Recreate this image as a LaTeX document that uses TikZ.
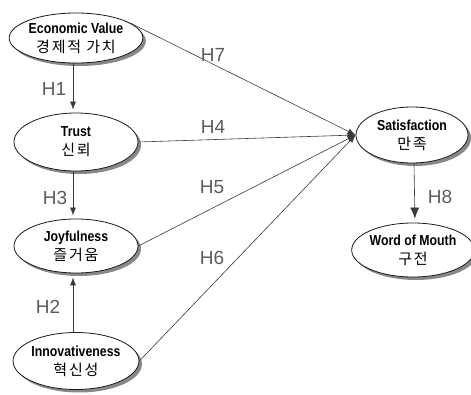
\documentclass[tikz,border=0pt]{standalone}
\usepackage{fontspec}
\setmainfont{Liberation Sans}
\newfontfamily\eng[FakeStretch=0.85]{Liberation Sans}
\newfontfamily\kr[LetterSpace=12]{Noto Sans CJK KR}
\usetikzlibrary{arrows.meta,shapes.geometric,shadows}
\definecolor{Ink}{HTML}{1A1A1A}
\definecolor{Wire}{HTML}{3A3A3A}
\definecolor{Tag}{HTML}{5C5C5C}
\definecolor{Shade}{HTML}{888888}
\tikzset{
  construct/.style={ellipse, draw=Ink, line width=0.8pt, fill=white, inner sep=0pt,
    minimum width=124pt, minimum height=54pt, align=center,
    font=\fontsize{15}{19}\selectfont,
    drop shadow={shadow xshift=3pt, shadow yshift=-3pt, fill=Shade, opacity=1}},
  link/.style={draw=Wire, line width=0.6pt, -{Latex[length=8pt,width=6pt]}},
  hyp/.style={text=Tag, font=\fontsize{19}{19}\selectfont, inner sep=0pt}
}
\newcommand{\cname}[2]{{\eng\bfseries\fontsize{14.5}{19}\selectfont #1}\\{\kr\fontsize{15}{19}\selectfont #2}}

\begin{document}
\begin{tikzpicture}[x=1pt,y=-1pt]
        \useasboundingbox (0,0) rectangle (471,395);
        \node[construct, minimum width=127pt, minimum height=50pt] (econ) at (76,38) {\cname{Economic Value}{경제적 가치}};
        \node[construct, minimum height=58pt] (trust) at (76,142) {\cname{Trust}{신뢰}};
        \node[construct] (joy) at (76,246) {\cname{Joyfulness}{즐거움}};
        \node[construct, minimum height=57pt] (innov) at (76,361) {\cname{Innovativeness}{혁신성}};
        \node[construct, minimum width=112pt, minimum height=56pt] (sat) at (412,135) {\cname{Satisfaction}{만족}};
        \node[construct, minimum width=112pt] (wom) at (413,250) {\cname{Word of Mouth}{구전}};
        \draw[link, shorten >=3pt] ([xshift=-3pt]econ.south) -- ([xshift=-3pt]trust.north);
        \draw[link, shorten >=3pt] ([xshift=-3pt]trust.south) -- ([xshift=-3pt]joy.north);
        \draw[link, shorten >=4pt] ([xshift=-3pt]innov.north) -- ([xshift=-3pt]joy.south);
        \draw[link] (econ.15) -- (sat.west);
        \draw[link] (trust.east) -- (sat.west);
        \draw[link] (joy.east) -- (sat.west);
        \draw[link] (innov.east) -- (sat.west);
        \draw[link, -{Latex[length=11pt,width=9pt]}, shorten >=4pt] ([xshift=2pt]sat.south) -- ([xshift=2pt]wom.north);
        \node[hyp] (h1) at (54,89) {H1};
        \node[hyp] (h3) at (55,198) {H3};
        \node[hyp] (h2) at (48,307) {H2};
        \node[hyp] (h7) at (213,55) {H7};
        \node[hyp] (h4) at (213,127) {H4};
        \node[hyp] (h5) at (212,187) {H5};
        \node[hyp] (h6) at (212,258) {H6};
        \node[hyp] (h8) at (440,197) {H8};
      \end{tikzpicture}
\end{document}
